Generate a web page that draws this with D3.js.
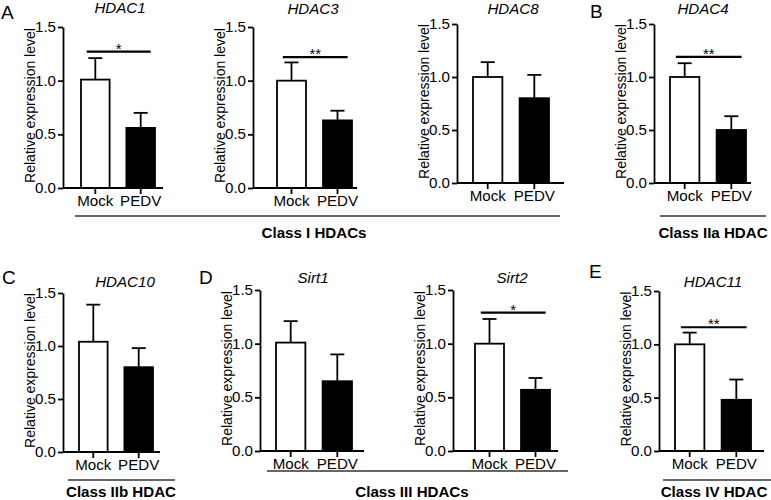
<!DOCTYPE html>
<html>
<head>
<meta charset="utf-8">
<script src="https://cdn.jsdelivr.net/npm/d3@7"></script>
<style>
  body { margin: 0; background: #fff; }
  svg { font-family: Arial, "Liberation Sans", sans-serif; }
</style>
</head>
<body>
<svg id="chart" width="771" height="500"></svg>
<script>
// values
const genes = ["HDAC1", "HDAC3", "HDAC8", "HDAC4", "HDAC10", "Sirt1", "Sirt2", "HDAC11"];
const groups = ["Mock", "PEDV"];
const mockMean = [1.01, 1.00, 1.00, 1.00, 1.04, 1.01, 1.00, 1.00];
const mockSD = [0.20, 0.17, 0.14, 0.13, 0.35, 0.20, 0.23, 0.11];
const pedvMean = [0.56, 0.63, 0.80, 0.50, 0.80, 0.65, 0.57, 0.48];
const pedvSD = [0.14, 0.09, 0.22, 0.13, 0.18, 0.25, 0.11, 0.19];
const signif = ["*", "**", "", "**", "", "", "*", "**"];
const signifLevel = [1.27, 1.22, null, 1.19, null, null, 1.29, 1.16];
const yTicks = [0, 0.5, 1.0, 1.5];
const letters = ["A", "B", "C", "D", "E"];
const classNames = ["Class I HDACs", "Class IIa HDAC", "Class IIb HDAC", "Class III HDACs", "Class IV HDAC"];

// panel geometry: y axis x, first bar left, last bar right, x axis end, y of 0, y of 1.5, title x/y
const layout = [
  { ax: 63, b0: 81, b1: 155, end: 163, y0: 188, y1: 27, tx: 120, ty: 13 },
  { ax: 253, b0: 277, b1: 352, end: 357, y0: 188, y1: 27, tx: 313, ty: 14 },
  { ax: 457, b0: 473, b1: 549, end: 564, y0: 183, y1: 24, tx: 513, ty: 14 },
  { ax: 654, b0: 670, b1: 746, end: 751, y0: 183, y1: 24, tx: 703, ty: 14 },
  { ax: 63, b0: 79, b1: 153, end: 160, y0: 452, y1: 293, tx: 125, ty: 287 },
  { ax: 260, b0: 276, b1: 352, end: 364, y0: 451, y1: 290, tx: 313, ty: 283 },
  { ax: 453, b0: 475, b1: 550, end: 558, y0: 451, y1: 290, tx: 512, ty: 283 },
  { ax: 659, b0: 675, b1: 751, end: 764, y0: 451, y1: 291, tx: 713, ty: 287 }
];
const letterPos = [[1, 19], [590, 18], [2, 284], [199, 284], [589, 278]];
const classPos = [
  { x1: 75, x2: 560, y: 216, tx: 314, ty: 238 },
  { x1: 660, x2: 766, y: 216, tx: 713, ty: 238 },
  { x1: 68, x2: 175, y: 480, tx: 121, ty: 497 },
  { x1: 267, x2: 568, y: 471, tx: 412, ty: 497 },
  { x1: 663, x2: 771, y: 480, tx: 714, ty: 497 }
];

const svg = d3.select("#chart");
const sw = 1.8;
const sx = 1.08; // the figure's lettering is slightly wide

// place a text at (x,y) with a horizontal stretch
function putText(sel, x, y, rot) {
  sel.attr("transform", `translate(${x},${y})` + (rot ? ` rotate(${rot}) scale(1,${sx})` : ` scale(${sx},1)`));
  return sel;
}

genes.forEach((gene, i) => {
  const L = layout[i];
  const g = svg.append("g");

  const x = d3.scaleBand().domain(groups).range([L.b0, L.b1]).paddingInner(0.37).paddingOuter(0);
  const y = d3.scaleLinear().domain([0, 1.5]).range([L.y0, L.y1]);

  const rows = [
    { grp: "Mock", mean: mockMean[i], sd: mockSD[i] },
    { grp: "PEDV", mean: pedvMean[i], sd: pedvSD[i] }
  ];

  // error bars (upper only)
  const eb = g.selectAll(".err").data(rows).enter().append("g")
    .attr("stroke", "#000").attr("stroke-width", sw);
  eb.append("line")
    .attr("x1", d => x(d.grp) + x.bandwidth() / 2)
    .attr("x2", d => x(d.grp) + x.bandwidth() / 2)
    .attr("y1", d => y(d.mean))
    .attr("y2", d => y(d.mean + d.sd));
  eb.append("line")
    .attr("x1", d => x(d.grp) + x.bandwidth() / 2 - 7)
    .attr("x2", d => x(d.grp) + x.bandwidth() / 2 + 7)
    .attr("y1", d => y(d.mean + d.sd))
    .attr("y2", d => y(d.mean + d.sd));

  g.selectAll("rect").data(rows).enter().append("rect")
    .attr("x", d => x(d.grp))
    .attr("y", d => y(d.mean))
    .attr("width", x.bandwidth())
    .attr("height", d => y(0) - y(d.mean))
    .attr("fill", d => d.grp === "Mock" ? "#fff" : "#000")
    .attr("stroke", "#000")
    .attr("stroke-width", sw);

  // y axis
  const yAxis = g.append("g")
    .attr("transform", `translate(${L.ax},0)`)
    .call(d3.axisLeft(y).tickValues(yTicks).tickFormat(d3.format(".1f")).tickSize(5).tickSizeOuter(0));
  yAxis.select(".domain").attr("stroke-width", sw);
  yAxis.selectAll(".tick line").attr("stroke-width", sw);
  yAxis.selectAll("text").attr("font-size", 14).attr("fill", "#000")
    .attr("x", -7 / sx).attr("transform", `scale(${sx},1)`);

  // x axis
  g.append("line")
    .attr("x1", L.ax).attr("x2", L.end)
    .attr("y1", y(0)).attr("y2", y(0))
    .attr("stroke", "#000").attr("stroke-width", sw);
  const xAxis = g.append("g")
    .attr("transform", `translate(0,${y(0)})`)
    .call(d3.axisBottom(x).tickSize(6).tickSizeOuter(0));
  xAxis.select(".domain").remove();
  xAxis.selectAll(".tick line").attr("stroke-width", sw);
  xAxis.selectAll("text").attr("font-size", 14).attr("fill", "#000")
    .attr("y", 8).attr("transform", `scale(${sx},1)`);

  // y label
  putText(g.append("text"), L.ax - 33, (L.y0 + L.y1) / 2 - 2, -90)
    .attr("text-anchor", "middle")
    .attr("dy", "0.35em")
    .attr("font-size", 14)
    .text("Relative expression level");

  // title
  putText(g.append("text"), L.tx, L.ty)
    .attr("text-anchor", "middle")
    .attr("font-size", 14)
    .attr("font-style", "italic")
    .text(gene);

  // significance
  if (signif[i]) {
    const sy = y(signifLevel[i]);
    const sx1 = x("Mock") + x.bandwidth() * 0.2;
    const sx2 = x("PEDV") + x.bandwidth() * 0.85;
    g.append("line")
      .attr("x1", sx1).attr("x2", sx2)
      .attr("y1", sy).attr("y2", sy)
      .attr("stroke", "#000").attr("stroke-width", 2.2);
    g.append("text")
      .attr("x", (sx1 + sx2) / 2)
      .attr("y", sy + 2)
      .attr("text-anchor", "middle")
      .attr("font-size", 15)
      .text(signif[i]);
  }
});

letters.forEach((t, i) => {
  svg.append("text")
    .attr("x", letterPos[i][0]).attr("y", letterPos[i][1])
    .attr("font-size", 19)
    .text(t);
});

classNames.forEach((t, i) => {
  const c = classPos[i];
  svg.append("line")
    .attr("x1", c.x1).attr("x2", c.x2)
    .attr("y1", c.y).attr("y2", c.y)
    .attr("stroke", "#333").attr("stroke-width", 1.3);
  putText(svg.append("text"), c.tx, c.ty)
    .attr("text-anchor", "middle")
    .attr("font-size", 14)
    .attr("font-weight", "bold")
    .text(t);
});
</script>
</body>
</html>
